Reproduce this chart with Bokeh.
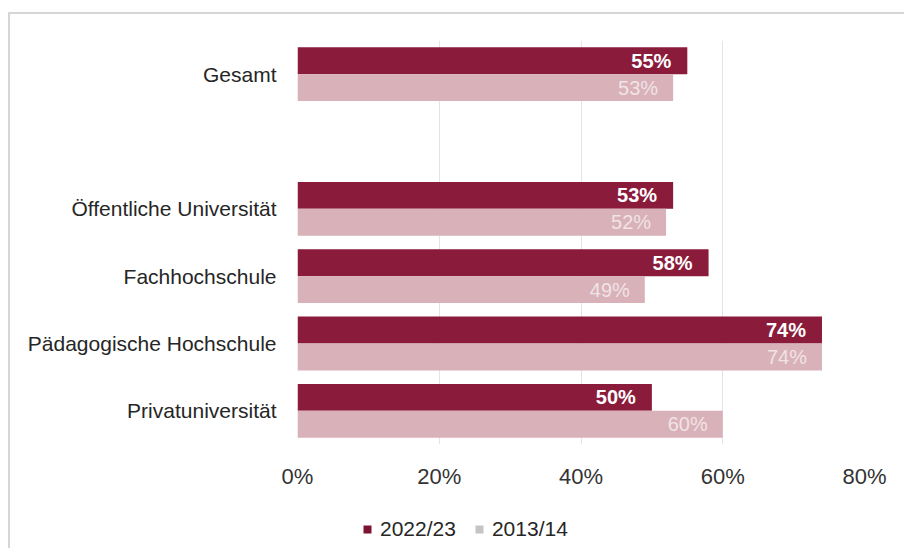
from bokeh.plotting import figure
from bokeh.layouts import column
from bokeh.models import ColumnDataSource, FactorRange, Range1d, FixedTicker, Legend, LegendItem
from bokeh.transform import dodge
from bokeh.core.properties import value
from bokeh.embed import file_html
from bokeh.resources import INLINE

categories = ["Privatuniversität", "Pädagogische Hochschule", "Fachhochschule",
              "Öffentliche Universität", " ", "Gesamt"]
values_2022 = [50, 74, 58, 53, None, 55]
values_2013 = [60, 74, 49, 52, None, 53]
labels_2022 = ["50%", "74%", "58%", "53%", "", "55%"]
labels_2013 = ["60%", "74%", "49%", "52%", "", "53%"]
series_names = ["2022/23", "2013/14"]
tick_values = [0, 20, 40, 60, 80]
tick_labels = ["0%", "20%", "40%", "60%", "80%"]

DARK = "#8a1b3b"
LIGHT = "#d8b1b9"
FONT = "Liberation Sans"

src = ColumnDataSource(dict(cat=categories, v1=[v if v is not None else float("nan") for v in values_2022],
                            v2=[v if v is not None else float("nan") for v in values_2013],
                            l1=labels_2022, l2=labels_2013))

p = figure(width=904, height=500, output_backend="svg", toolbar_location=None,
           y_range=FactorRange(*categories, range_padding=0), x_range=Range1d(0, 80),
           min_border_left=297, min_border_right=40, min_border_top=40, min_border_bottom=56)
p.outline_line_color = None
p.border_fill_color = None
p.background_fill_color = None

p.hbar(y=dodge("cat", 0.2, range=p.y_range), right="v1", left=0, height=0.4, source=src,
       fill_color=DARK, line_color=None)
p.hbar(y=dodge("cat", -0.2, range=p.y_range), right="v2", left=0, height=0.4, source=src,
       fill_color=LIGHT, line_color=None)

p.text(x="v1", y=dodge("cat", 0.2, range=p.y_range), text="l1", source=src, x_offset=-16,
       text_align="right", text_baseline="middle", text_color="white",
       text_font=value(FONT), text_font_size="20px", text_font_style="bold")
p.text(x="v2", y=dodge("cat", -0.2, range=p.y_range), text="l2", source=src, x_offset=-15,
       text_align="right", text_baseline="middle", text_color="#f1e3e6",
       text_font=value(FONT), text_font_size="20px")

p.xgrid.ticker = FixedTicker(ticks=tick_values)
p.xgrid.grid_line_color = "#e4e4e4"
p.ygrid.grid_line_color = None

p.xaxis.ticker = FixedTicker(ticks=tick_values)
p.xaxis.major_label_overrides = {t: l for t, l in zip(tick_values, tick_labels)}
p.xaxis.axis_line_color = None
p.xaxis.major_tick_line_color = None
p.xaxis.minor_tick_line_color = None
p.xaxis.major_label_text_font = FONT
p.xaxis.major_label_text_font_size = "22px"
p.xaxis.major_label_text_color = "#333333"
p.xaxis.major_label_standoff = 13

p.yaxis.axis_line_color = None
p.yaxis.major_tick_line_color = None
p.yaxis.major_label_text_font = FONT
p.yaxis.major_label_text_font_size = "21px"
p.yaxis.major_label_text_color = "#262626"
p.yaxis.major_label_standoff = 15

# legend strip below the chart (its glyph proxies fall outside its empty ranges)
lg = figure(width=904, height=48, output_backend="svg", toolbar_location=None,
            x_range=Range1d(-2, -1), y_range=Range1d(-2, -1), min_border=0)
lg.outline_line_color = None
lg.border_fill_color = None
lg.background_fill_color = None
lg.axis.visible = False
lg.grid.visible = False
r1 = lg.scatter(x="v1", y="v1", source=src, marker="square", size=8,
                fill_color="#7a1430", line_color=None)
r2 = lg.scatter(x="v2", y="v2", source=src, marker="square", size=8,
                fill_color="#c4c4c4", line_color=None)
legend = Legend(items=[LegendItem(label=series_names[0], renderers=[r1], index=0),
                       LegendItem(label=series_names[1], renderers=[r2], index=0)],
                location=(60, 7), orientation="horizontal",
                label_text_font=FONT, label_text_font_size="21px", label_text_color="#262626",
                glyph_width=20, glyph_height=20, label_standoff=3, spacing=13,
                padding=4, margin=0, background_fill_alpha=0, border_line_color=None)
lg.add_layout(legend, "center")

layout = column(p, lg, spacing=0)
layout.styles = {
    "background": "linear-gradient(#d6d6d6, #d6d6d6) 8px 12px / 100% 2px no-repeat, "
                  "linear-gradient(#d6d6d6, #d6d6d6) 8px 12px / 2px 100% no-repeat, white"
}
open("out.html", "w").write(file_html(layout, INLINE))
